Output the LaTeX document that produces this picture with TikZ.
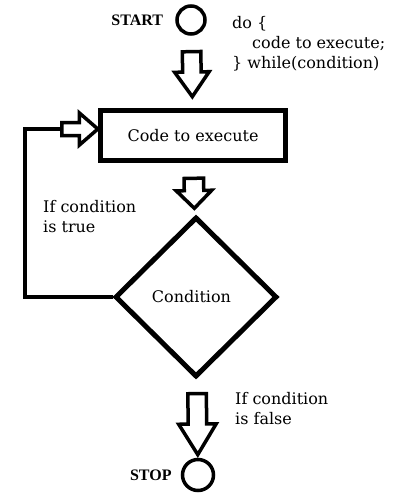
\documentclass[tikz,border=0pt]{standalone}
\usepackage{fontspec}
\setmainfont{DejaVu Serif}
\newfontfamily\termfont{Liberation Serif}
\usetikzlibrary{shapes.geometric,shapes.arrows,positioning}
\def\lw{3.5pt}
\def\bodysize{\fontsize{16}{20}\selectfont}
\def\termsize{\fontsize{16}{16}\selectfont}

\begin{document}
\begin{tikzpicture}[x=1pt,y=-1pt,font=\bodysize,
  term/.style={circle, draw, line width=\lw, inner sep=0pt},
  termtext/.style={font=\termfont\bfseries\termsize, inner sep=0pt},
  process/.style={rectangle, draw, line width=5pt, minimum width=185pt, minimum height=50pt},
  decision/.style={diamond, draw, line width=5pt, inner sep=0pt, minimum width=162pt, minimum height=160pt},
  harrow/.style={single arrow, draw, line width=\lw, inner xsep=0pt, sloped, allow upside down},
  note/.style={align=left, inner sep=0pt, anchor=north west}]
\useasboundingbox (0,0) rectangle (400,500);

% Terminals
\node[term, minimum size=28pt] (start) at (191,20) {};
\node[termtext, left=12pt of start] (starttext) {START};
\node[term, minimum size=31pt] (stop) at (198,475) {};
\node[termtext, left=9pt of stop] (stoptext) {STOP};

% Loop body and test
\node[process] (code) at (193,135.5) {Code to execute};
\node[decision] (cond) at (196,297) {\hspace*{-9pt}Condition};

% Hollow arrows
\path (start) -- node[harrow, pos=0.44, minimum height=45pt, inner ysep=7.5pt,
  single arrow head extend=8pt, single arrow tip angle=70] (arr1) {} (code);
\path (code) -- node[harrow, pos=0.48, minimum height=30pt, inner ysep=8pt,
  single arrow head extend=8pt, single arrow tip angle=90] (arr2) {} (cond);
\path (cond) -- node[harrow, pos=0.48, minimum height=61pt, inner ysep=7.5pt,
  single arrow head extend=9.5pt, single arrow tip angle=63] (arr3) {} (stop);
\coordinate (loopc) at (25,129);
\coordinate (loopend) at (98,129);
\path (loopc) -- node[harrow, pos=0.7, minimum height=36pt, inner ysep=4.75pt,
  single arrow head extend=9.5pt, single arrow tip angle=82] (arr4) {} (loopend);

% Back edge
\draw[line width=\lw] (cond.west) -| (loopc) -- (arr4.tail);

% Labels
\node[note] (syntax) at (232,16) {do \{\\\hspace*{1.25em}code to execute;\\\} while(condition)};
\node[note] (truetext) at (43,200) {If condition\\is true};
\node[note] (falsetext) at (235,392) {If condition\\is false};

\end{tikzpicture}
\end{document}
